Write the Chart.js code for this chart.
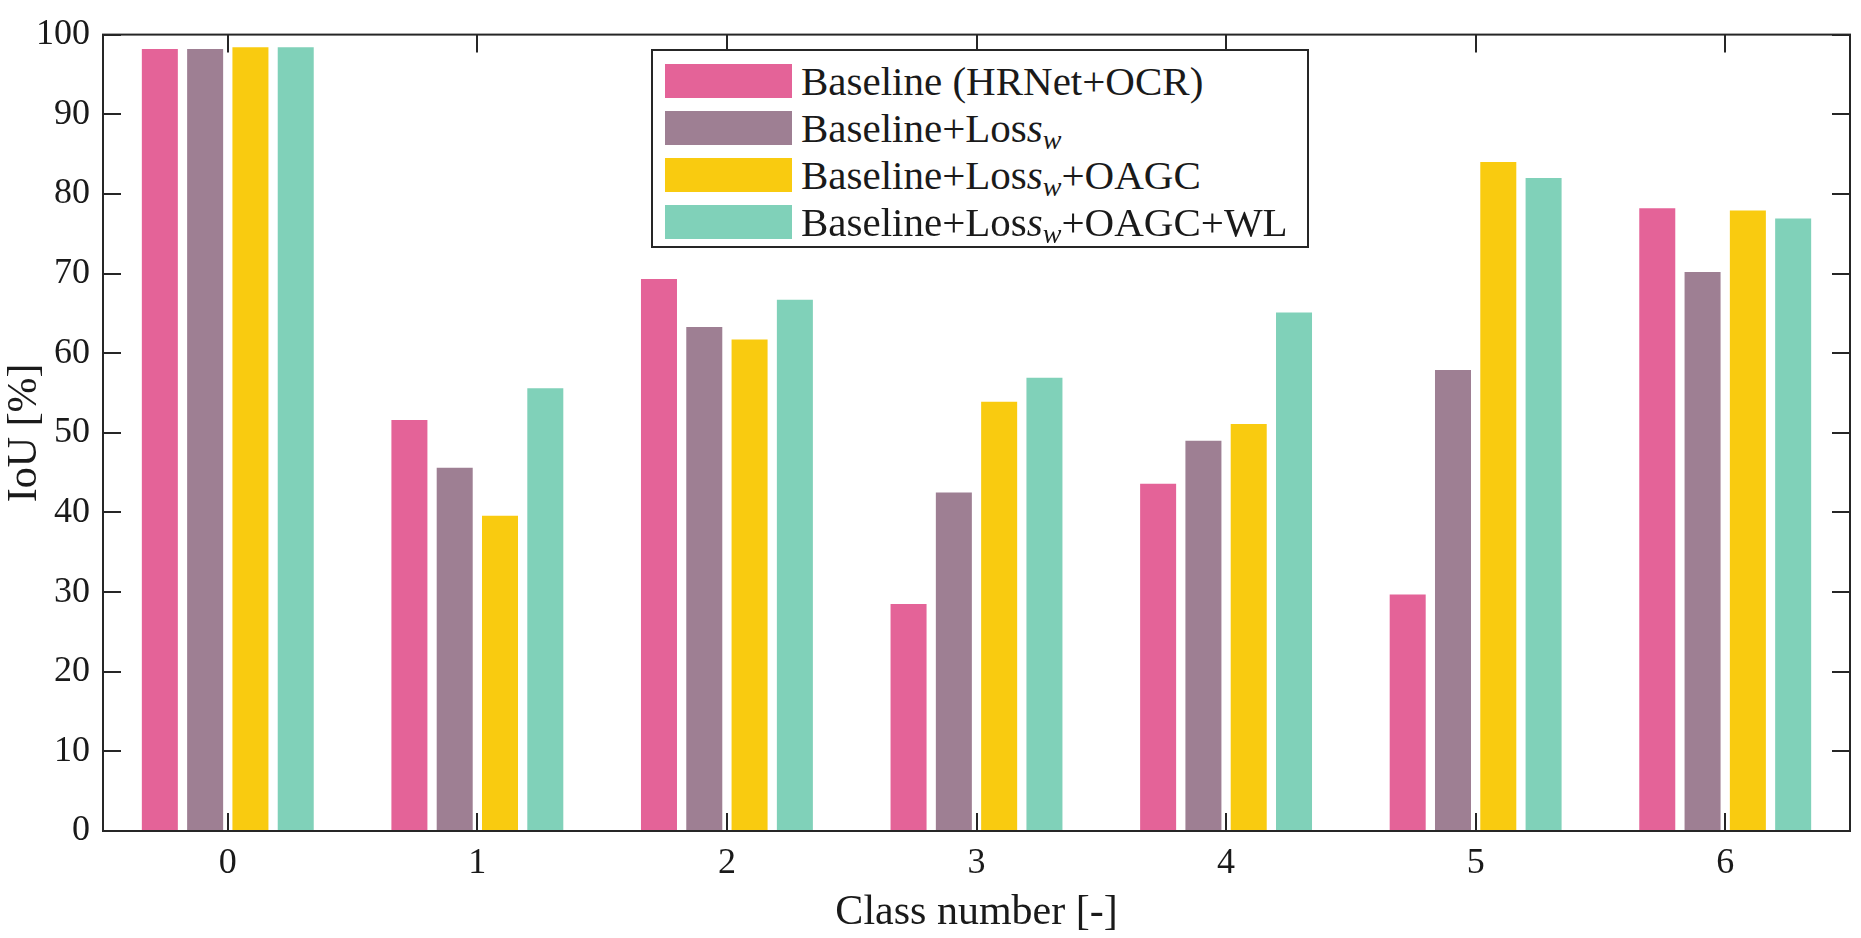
<!DOCTYPE html>
<html>
<head>
<meta charset="utf-8">
<script src="https://cdn.jsdelivr.net/npm/chart.js@4"></script>
<style>
  html, body { margin: 0; padding: 0; background: #ffffff; }
  #wrap { position: relative; width: 1861px; height: 938px; }
  #legend {
    position: absolute; left: 651px; top: 49px; width: 654px; height: 195px;
    border: 2px solid #262626; background: #ffffff;
    font-family: 'Liberation Serif', serif; font-size: 41px; color: #1a1a1a;
  }
  .row { position: absolute; left: 0; height: 34px; width: 100%; }
  .sw { position: absolute; left: 12px; top: 0; width: 127px; height: 34px; }
  .lb { position: absolute; left: 148px; top: 50%; transform: translateY(-50%); white-space: nowrap; line-height: 1; }
  .lb sub { font-size: 28px; vertical-align: -7px; line-height: 0; }
</style>
</head>
<body>
<div id="wrap">
  <canvas id="c"></canvas>
  <div id="legend"></div>
</div>
<script>
const categories = ["0", "1", "2", "3", "4", "5", "6"];
const seriesNames = [
  "Baseline (HRNet+OCR)",
  "Baseline+Loss_w",
  "Baseline+Loss_w+OAGC",
  "Baseline+Loss_w+OAGC+WL"
];
const baseline      = [98.2, 51.6, 69.3, 28.5, 43.6, 29.7, 78.2];
const baselineLoss  = [98.2, 45.6, 63.3, 42.5, 49.0, 57.9, 70.2];
const lossOagc      = [98.4, 39.6, 61.7, 53.9, 51.1, 84.0, 77.9];
const lossOagcWl    = [98.4, 55.6, 66.7, 56.9, 65.1, 82.0, 76.9];
const seriesColors = ["#E46398", "#9E7F93", "#F9CB10", "#80D1B9"];
const yTicks = [0, 10, 20, 30, 40, 50, 60, 70, 80, 90, 100];

const FONT = "'Liberation Serif', serif";
const AXIS = "#262626";

const seriesValues = [baseline, baselineLoss, lossOagc, lossOagcWl];
const datasets = seriesValues.map((vals, i) => ({
  label: seriesNames[i],
  data: vals,
  backgroundColor: seriesColors[i],
  borderWidth: 0,
  categoryPercentage: 0.726,
  barPercentage: 0.795
}));

const boxPlugin = {
  id: 'boxTicks',
  afterDatasetsDraw(chart) {
    const ctx = chart.ctx;
    const a = chart.chartArea;
    const xs = chart.scales.x, ys = chart.scales.y;
    const L = 18;
    ctx.save();
    ctx.strokeStyle = AXIS;
    ctx.lineWidth = 2;
    ctx.beginPath();
    ys.ticks.forEach(t => {
      const py = Math.round(ys.getPixelForValue(t.value));
      ctx.moveTo(a.left, py); ctx.lineTo(a.left + L, py);
      ctx.moveTo(a.right, py); ctx.lineTo(a.right - L, py);
    });
    xs.ticks.forEach((t, i) => {
      const px = Math.round(xs.getPixelForTick(i));
      ctx.moveTo(px, a.bottom); ctx.lineTo(px, a.bottom - L);
      ctx.moveTo(px, a.top); ctx.lineTo(px, a.top + L);
    });
    ctx.stroke();
    ctx.strokeRect(a.left, a.top, a.right - a.left, a.bottom - a.top);
    ctx.restore();
  }
};

const chart = new Chart(document.getElementById('c'), {
  type: 'bar',
  data: { labels: categories, datasets },
  options: {
    responsive: true,
    maintainAspectRatio: false,
    animation: false,
    devicePixelRatio: 1,
    layout: { padding: { top: 18, right: 11, left: 0, bottom: 0 } },
    plugins: { legend: { display: false }, tooltip: { enabled: false } },
    scales: {
      x: {
        offset: true,
        grid: { display: false, drawTicks: false },
        border: { display: false },
        ticks: { color: '#1a1a1a', font: { family: FONT, size: 36 }, padding: 11, maxRotation: 0 },
        title: { display: true, text: 'Class number [-]', color: '#1a1a1a', font: { family: FONT, size: 42 }, padding: { top: 0, bottom: 0 } },
        afterFit(s) { s.height = 107; }
      },
      y: {
        min: 0, max: 100,
        afterBuildTicks(s) { s.ticks = yTicks.map(v => ({ value: v })); },
        grid: { display: false, drawTicks: false },
        border: { display: false },
        ticks: { color: '#1a1a1a', font: { family: FONT, size: 36 }, padding: 13 },
        title: { display: true, text: 'IoU [%]', color: '#1a1a1a', font: { family: FONT, size: 42 }, padding: { top: 0, bottom: 0 } },
        afterFit(s) { s.width = 103; }
      }
    }
  },
  plugins: [boxPlugin]
});

// HTML legend built from the datasets
const legend = document.getElementById('legend');
const rowTops = [13, 60, 107, 154];
chart.data.datasets.forEach((ds, i) => {
  const row = document.createElement('div');
  row.className = 'row';
  row.style.top = rowTops[i] + 'px';
  const sw = document.createElement('div');
  sw.className = 'sw';
  sw.style.background = ds.backgroundColor;
  const lb = document.createElement('div');
  lb.className = 'lb';
  const parts = ds.label.split('Loss_w');
  parts.forEach((p, k) => {
    lb.appendChild(document.createTextNode(p));
    if (k < parts.length - 1) {
      lb.appendChild(document.createTextNode('Los'));
      const it = document.createElement('i'); it.textContent = 's'; lb.appendChild(it);
      const sb = document.createElement('sub'); const iw = document.createElement('i'); iw.textContent = 'w'; sb.appendChild(iw); lb.appendChild(sb);
    }
  });
  row.appendChild(sw); row.appendChild(lb);
  legend.appendChild(row);
});
</script>
</body>
</html>
